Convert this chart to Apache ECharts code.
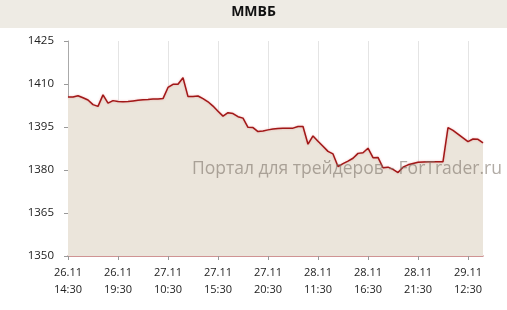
<!DOCTYPE html>
<html>
<head>
<meta charset="utf-8">
<script src="https://cdn.jsdelivr.net/npm/echarts@6/dist/echarts.min.js"></script>
<style>html,body{margin:0;padding:0;background:#fff}#c{width:507px;height:310px}</style>
</head>
<body>
<div id="c"></div>
<script>
var title = 'ММВБ';
var watermark = 'Портал для трейдеров - ForTrader.ru';
var tickLabels = ['26.11\n14:30','26.11\n19:30','27.11\n10:30','27.11\n15:30','27.11\n20:30','28.11\n11:30','28.11\n16:30','28.11\n21:30','29.11\n12:30'];
var yTicks = [1350, 1365, 1380, 1395, 1410, 1425];
var values = [
1405.5,1405.5,1405.9,1405.2,1404.4,1402.8,1402.2,1406.2,1403.3,1404.2,
1403.9,1403.8,1403.9,1404.1,1404.3,1404.5,1404.6,1404.8,1404.8,1404.9,
1408.8,1409.9,1409.9,1412.2,1405.6,1405.6,1405.8,1404.9,1403.8,1402.3,
1400.5,1398.8,1400.0,1399.7,1398.6,1398.1,1394.9,1394.8,1393.4,1393.6,
1394.0,1394.3,1394.5,1394.6,1394.6,1394.6,1395.2,1395.2,1389.0,1391.9,
1390.0,1388.3,1386.5,1385.6,1381.2,1382.2,1383.1,1384.1,1385.8,1386.0,
1387.6,1384.3,1384.4,1380.8,1381.0,1380.2,1379.1,1381.0,1381.8,1382.3,
1382.7,1382.8,1382.9,1382.9,1382.9,1382.9,1394.8,1393.8,1392.5,1391.2,
1389.9,1390.8,1390.7,1389.5
];
var pointsPerTick = 10;

var chart = echarts.init(document.getElementById('c'), null, {renderer:'canvas'});
var data = values.map(function(v,i){return [i,v];});
var gridColors = tickLabels.map(function(){return '#e4e4e4';}).concat(['rgba(0,0,0,0)']);
var font = "'Open Sans', sans-serif";
chart.setOption({
  animation:false,
  backgroundColor:'#ffffff',
  graphic:[
    {type:'rect', left:0, top:0, shape:{width:507,height:28}, style:{fill:'#eeebe4'}, z:-1},
    {type:'text', left:'center', top:5, style:{text:title, font:"bold 14px 'Open Sans', sans-serif", fill:'#111'}},
    {type:'text', left:192, top:160, z:100, style:{text:watermark, font:"17.5px 'Open Sans', sans-serif", fill:'rgba(125,115,105,0.6)'}}
  ],
  grid:{left:68, right:24, top:41, bottom:54},
  xAxis:{
    type:'value', min:0, max:values.length-1, interval:pointsPerTick,
    axisLine:{show:true, onZero:false, lineStyle:{color:'#c07070', width:1.5}},
    axisTick:{show:true, length:4, lineStyle:{color:'#999'}},
    splitLine:{show:true, lineStyle:{color:gridColors, width:1}},
    axisLabel:{
      color:'#222', fontFamily:font, fontSize:11, lineHeight:17, margin:8,
      showMaxLabel:false,
      formatter:function(v){var k=Math.round(v/pointsPerTick);return (v%pointsPerTick===0 && tickLabels[k])||'';}
    }
  },
  yAxis:{
    type:'value', min:yTicks[0], max:yTicks[yTicks.length-1], interval:15,
    axisLine:{show:true, lineStyle:{color:'#aaa'}},
    axisTick:{show:true, length:4, lineStyle:{color:'#999'}},
    splitLine:{show:false},
    axisLabel:{color:'#222', fontFamily:font, fontSize:11.5, margin:14, formatter:function(v){return String(v);}}
  },
  series:[{
    type:'line', data:data, symbol:'none',
    lineStyle:{color:'#a01818', width:1.5, shadowColor:'rgba(230,100,100,0.5)', shadowBlur:2},
    areaStyle:{color:'#ebe5db', opacity:1},
    z:3
  }]
});
</script>
</body>
</html>
